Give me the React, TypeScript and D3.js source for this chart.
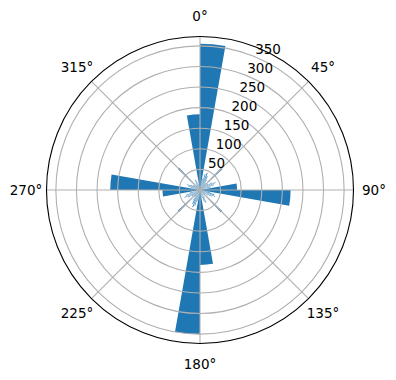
import React from "react";
import * as d3 from "d3";

// Polar bar data: bar start angle (deg, clockwise from north), width (deg), value
const barStart = [
  0, 350, 80, 90, 170, 180, 260, 270,
  43.5, 133.5, 223.5, 313.5,
  12, 17, 22, 27, 32, 37, 53, 58, 63, 68, 73,
  102, 107, 112, 117, 122, 128, 142, 148, 153, 158, 163,
  192, 197, 202, 207, 212, 217, 233, 238, 243, 248, 253,
  282, 287, 292, 297, 302, 308, 322, 328, 333, 338, 343,
];
const barWidth = [
  10, 10, 10, 10, 10, 10, 10, 10,
  3.5, 3.5, 3.5, 3.5,
  2.5, 2.5, 2.5, 2.5, 2.5, 2.5, 2.5, 2.5, 2.5, 2.5, 2.5,
  2.5, 2.5, 2.5, 2.5, 2.5, 2.5, 2.5, 2.5, 2.5, 2.5, 2.5,
  2.5, 2.5, 2.5, 2.5, 2.5, 2.5, 2.5, 2.5, 2.5, 2.5, 2.5,
  2.5, 2.5, 2.5, 2.5, 2.5, 2.5, 2.5, 2.5, 2.5, 2.5, 2.5,
];
const barValue = [
  355, 184, 90, 220, 182, 350, 91, 218,
  74, 74, 74, 74,
  28, 40, 45, 38, 30, 22, 24, 34, 42, 36, 26,
  26, 36, 40, 32, 24, 16, 16, 24, 34, 30, 20,
  28, 40, 45, 38, 30, 22, 24, 34, 42, 36, 26,
  22, 30, 34, 26, 20, 14, 14, 20, 28, 24, 16,
];
const rTicks = [50, 100, 150, 200, 250, 300, 350];
const thetaTicks = [0, 45, 90, 135, 180, 225, 270, 315];

export default function App() {
  const W = 396, H = 380;
  const cx = 200, cy = 190, R = 153.5;
  const rMax = d3.max(barValue)! * 1.05;
  const r = d3.scaleLinear().domain([0, rMax]).range([0, R]);
  const toRad = (d: number) => (d * Math.PI) / 180;
  const arc = d3.arc<number>()
    .innerRadius(0)
    .outerRadius((i) => r(barValue[i]))
    .startAngle((i) => toRad(barStart[i]))
    .endAngle((i) => toRad(barStart[i] + barWidth[i]));
  const font = "'DejaVu Sans', sans-serif";
  const labelAng = toRad(22.5);
  return (
    <svg width={W} height={H} style={{ position: "absolute", left: 0, top: 0, background: "#fff" }}>
      <g transform={`translate(${cx},${cy})`}>
        {barValue.map((_, i) => (
          <path key={i} d={arc(i)!} fill="#1f77b4" />
        ))}
        {rTicks.map((t) => (
          <circle key={t} r={r(t)} fill="none" stroke="#b0b0b0" strokeWidth={1.1} />
        ))}
        {thetaTicks.map((t) => (
          <line key={t} x1={0} y1={0} x2={R * Math.sin(toRad(t))} y2={-R * Math.cos(toRad(t))}
            stroke="#b0b0b0" strokeWidth={1.1} />
        ))}
        <circle r={R} fill="none" stroke="#000" strokeWidth={1.1} />
        {rTicks.map((t) => (
          <text key={t} x={r(t) * Math.sin(labelAng)} y={-r(t) * Math.cos(labelAng) - 3}
            fontFamily={font} fontSize={13.5} fill="#000" textAnchor="start">{t}</text>
        ))}
        {thetaTicks.map((t) => (
          <text key={t} x={174 * Math.sin(toRad(t))} y={-174 * Math.cos(toRad(t)) + 4.8}
            fontFamily={font} fontSize={13.5} fill="#000" textAnchor="middle">{t}°</text>
        ))}
      </g>
    </svg>
  );
}
